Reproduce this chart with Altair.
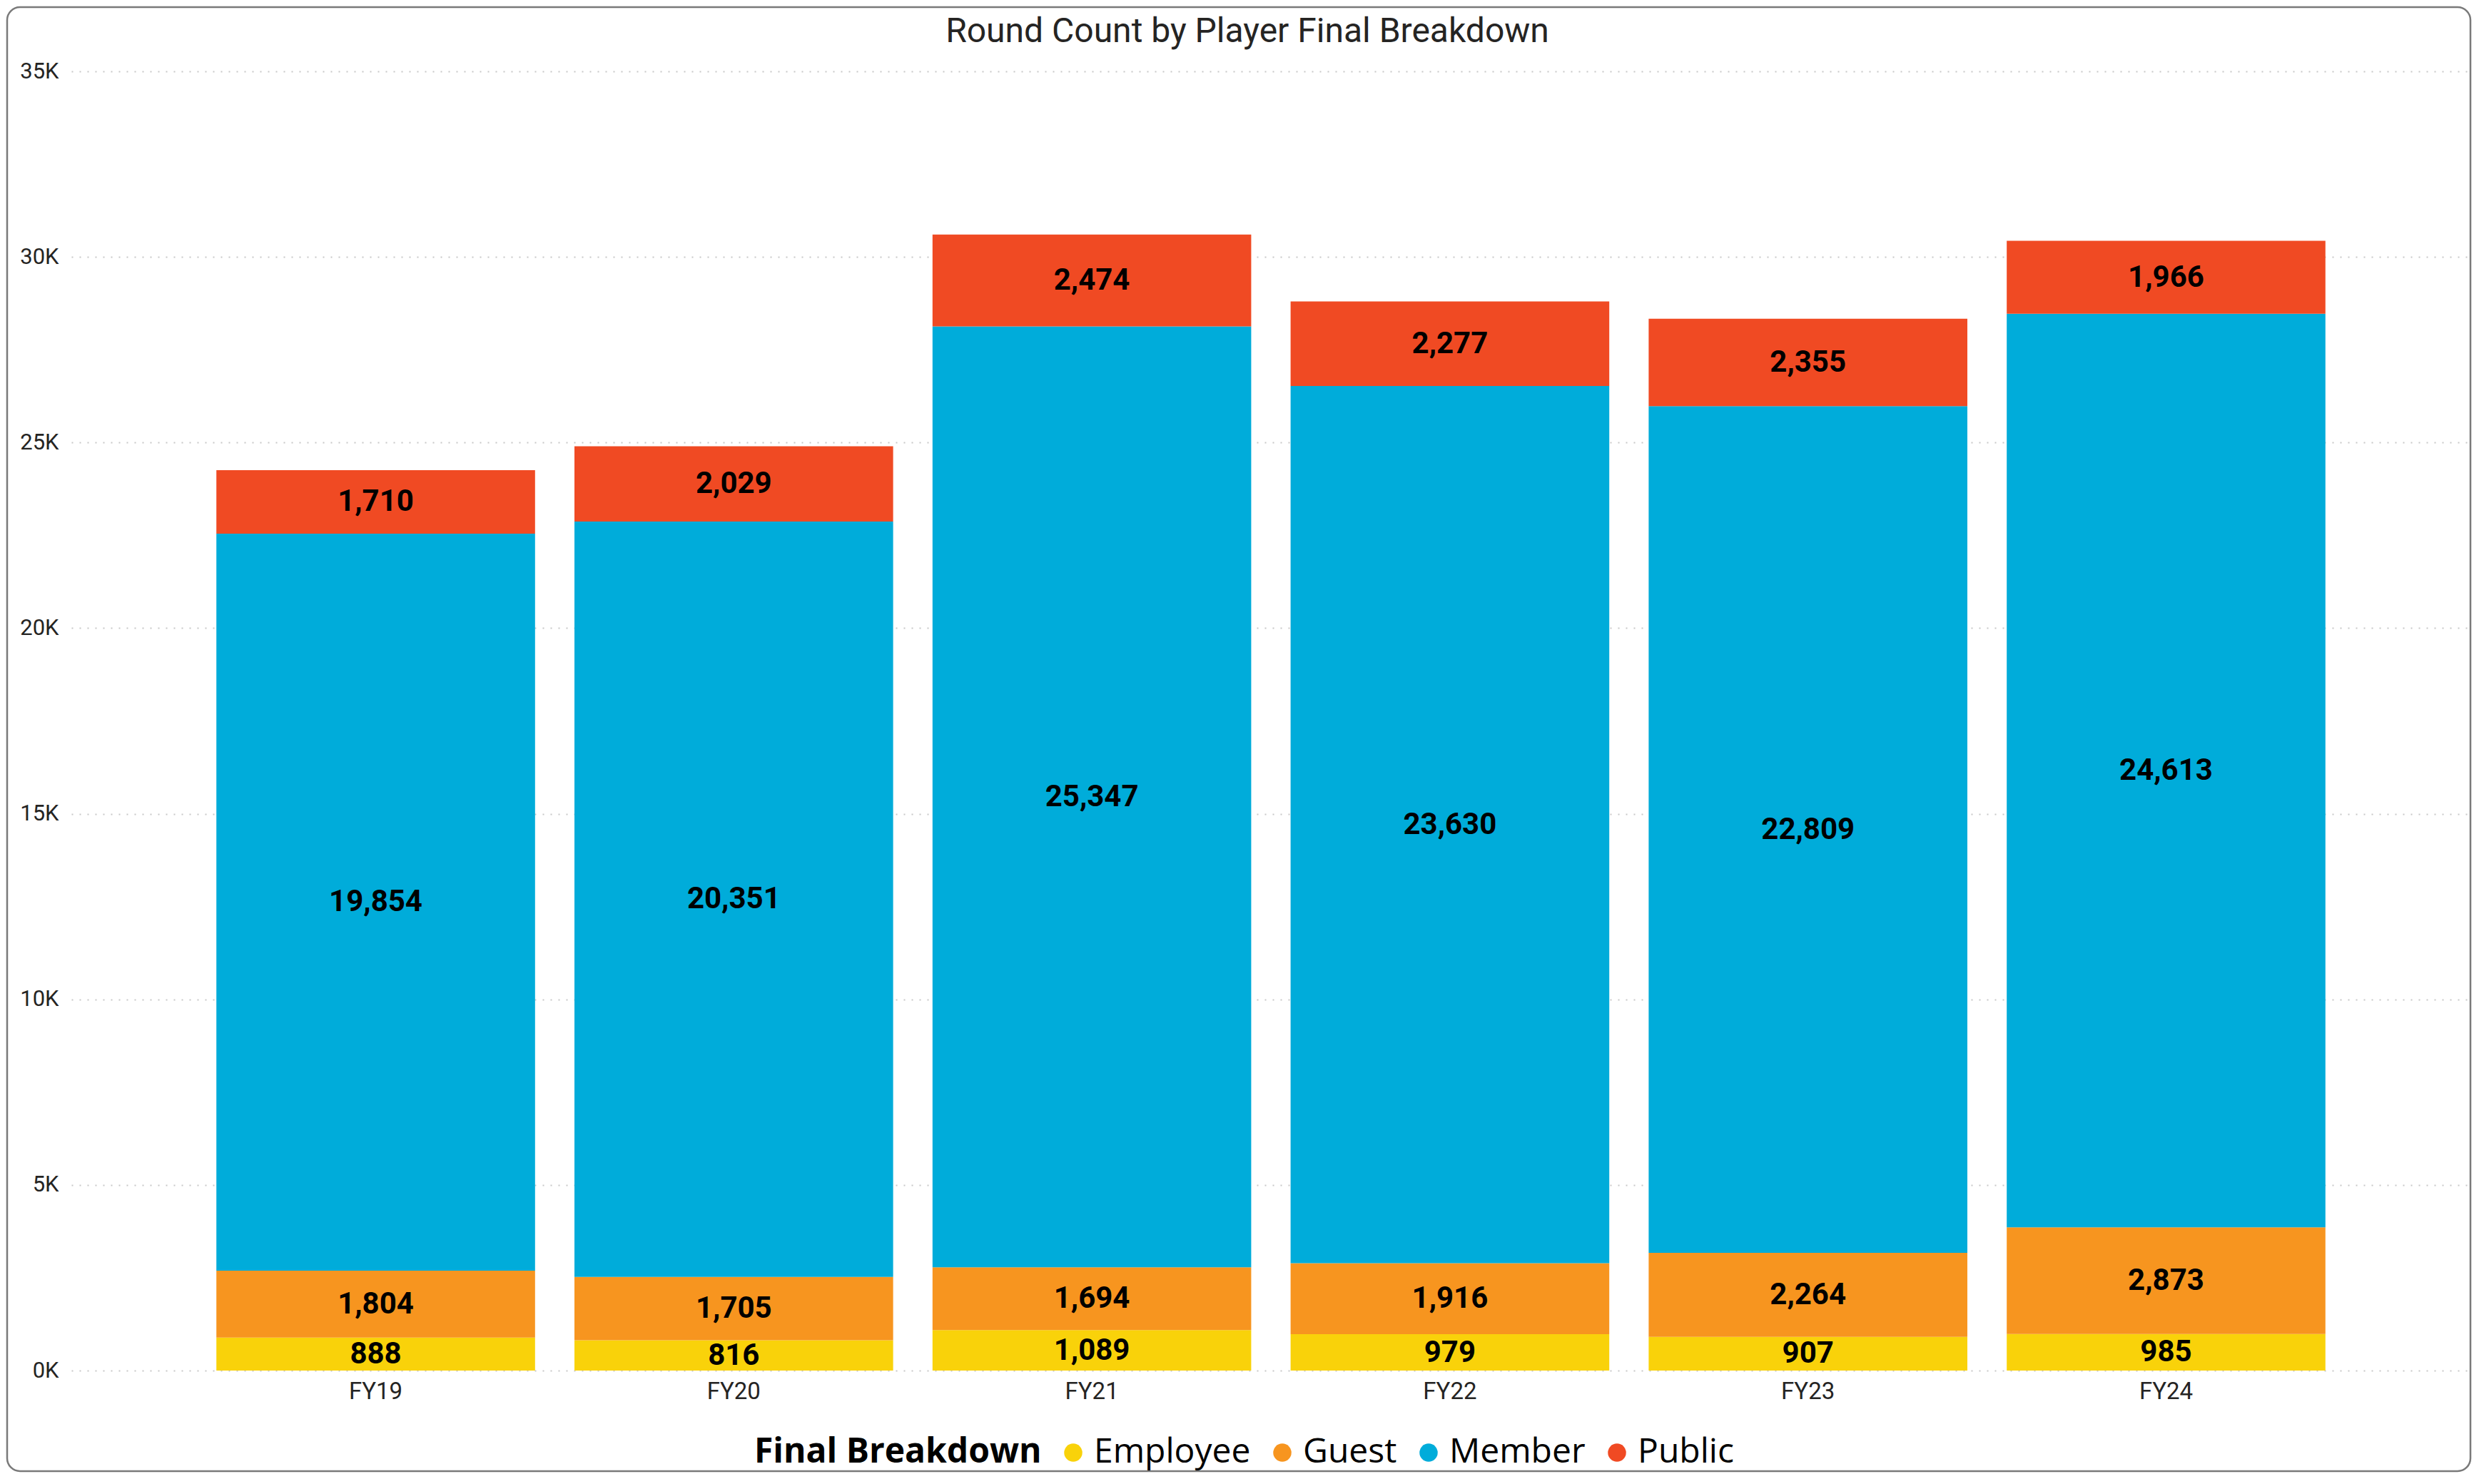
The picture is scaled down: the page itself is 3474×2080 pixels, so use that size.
import altair as alt
import pandas as pd

years = ["FY19", "FY20", "FY21", "FY22", "FY23", "FY24"]
categories = ["Employee", "Guest", "Member", "Public"]
employee = [888, 816, 1089, 979, 907, 985]
guest = [1804, 1705, 1694, 1916, 2264, 2873]
member = [19854, 20351, 25347, 23630, 22809, 24613]
public = [1710, 2029, 2474, 2277, 2355, 1966]
colors = ["#F9D20A", "#F7951F", "#00ACDA", "#F04A23"]
y_ticks = [0, 5000, 10000, 15000, 20000, 25000, 30000, 35000]

series = [employee, guest, member, public]
rows = []
for i, yr in enumerate(years):
    for j, cat in enumerate(categories):
        rows.append({"year": yr, "cat": cat, "order": j, "value": series[j][i]})
df = pd.DataFrame(rows)

W, H = 3362, 1821

x_enc = alt.X(
    "year:N", sort=years,
    scale=alt.Scale(paddingInner=0.11, paddingOuter=0.405),
    axis=alt.Axis(title=None, labelAngle=0, domain=False, ticks=False, grid=False,
                  labelPadding=13, labelFont="Roboto", labelFontSize=33,
                  labelColor="#252423"),
)
y_axis = alt.Axis(values=y_ticks, labelExpr="datum.value/1000 + 'K'", title=None,
                  domain=False, ticks=False, labelPadding=18, labelFont="Roboto",
                  labelFontSize=31, labelColor="#252423", gridColor="#c8c8c8",
                  gridDash=[2, 9], gridWidth=2)
y_scale = alt.Scale(domain=[0, 35000], nice=False)

base = alt.Chart(df).transform_stack(
    stack="value", groupby=["year"],
    sort=[alt.SortField("order", order="ascending")], as_=["v0", "v1"]
).transform_calculate(mid="(datum.v0 + datum.v1) / 2")

bars = base.mark_bar().encode(
    x=x_enc,
    y=alt.Y("v0:Q", scale=y_scale, axis=y_axis),
    y2="v1:Q",
    color=alt.Color(
        "cat:N",
        scale=alt.Scale(domain=categories, range=colors),
        legend=alt.Legend(
            title="Final Breakdown", orient="none", legendX=957, legendY=1912,
            direction="horizontal", titleOrient="left", titleFont="Open Sans",
            titleFontWeight="bold", titleFontSize=48, titleColor="#000000",
            titlePadding=20, titleLimit=2000, labelLimit=2000,
            labelFont="Open Sans", labelFontSize=48,
            labelColor="#000000", symbolType="circle", symbolSize=650,
            symbolStrokeWidth=0, labelOffset=5, columnPadding=20,
        ),
    ),
    order=alt.Order("order:Q"),
)

text = base.mark_text(font="Roboto", fontWeight="bold", fontSize=42,
                      color="#000000", baseline="middle").encode(
    x=x_enc,
    y=alt.Y("mid:Q", scale=y_scale, axis=y_axis),
    text=alt.Text("value:Q", format=","),
)

border = alt.Chart(pd.DataFrame({"k": [0]})).mark_rect(
    fillOpacity=0, stroke="#7a7a7a", strokeWidth=2.5, cornerRadius=18, clip=False
).encode(x=alt.value(-90), x2=alt.value(W), y=alt.value(-90), y2=alt.value(H + 141))

chart = alt.layer(border, bars, text).properties(
    width=W, height=H,
    title=alt.TitleParams("Round Count by Player Final Breakdown", font="Roboto",
                          fontSize=48, fontWeight="normal", color="#252423",
                          anchor="middle", frame="bounds", offset=-60, dx=12),
    padding={"left": 92, "top": 92, "right": 2, "bottom": 143},
    autosize=alt.AutoSizeParams(type="none"),
).configure_view(strokeWidth=0)

chart.save("out.html", embed_options={"renderer": "svg", "actions": False})
